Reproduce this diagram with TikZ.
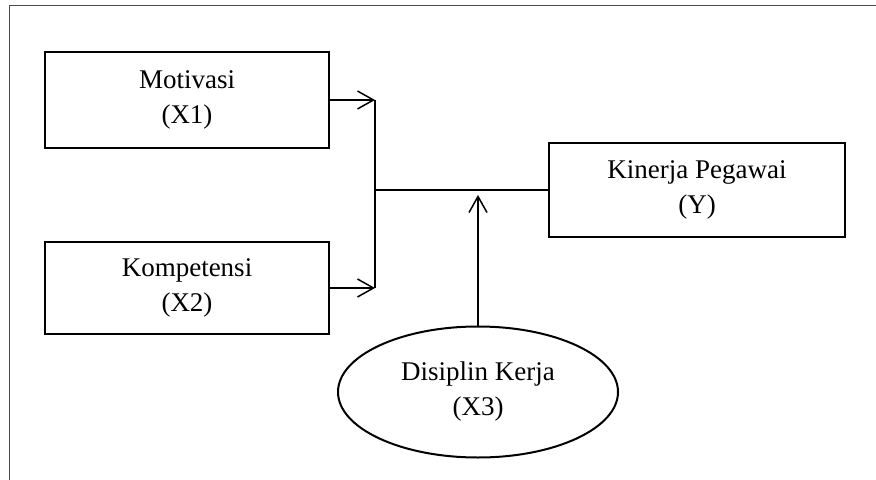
\documentclass[tikz,border=0pt]{standalone}
\usepackage{fontspec}
\setmainfont{Liberation Serif}
\usetikzlibrary{shapes.geometric,arrows.meta}

\begin{document}
\begin{tikzpicture}[x=0.5pt,y=-0.5pt]

    \useasboundingbox (0,0) rectangle (876,480);
    \draw[black!70,line width=0.5pt] (9,480) -- (9,6) -- (876,6); % Frame %

    \begin{scope}[every node/.style={draw,line width=0.6pt,align=center,font=\fontsize{13.5}{17.5}\selectfont}]
        \node[rectangle,minimum width=142pt,minimum height=48pt] (motivasi) at (187,100) {Motivasi\\(X1)};
        \node[rectangle,minimum width=142pt,minimum height=46pt] (kompetensi) at (187,288) {Kompetensi\\(X2)};
        \node[rectangle,minimum width=148pt,minimum height=47pt] (kinerja) at (697,190) {Kinerja Pegawai\\(Y)};
        \node[ellipse,line width=1pt,minimum width=140pt,minimum height=65.5pt] (disiplin) at (478,392) {Disiplin Kerja\\(X3)};
    \end{scope}

    \coordinate (j1) at (375,100);
    \coordinate (j2) at (375,288);
    \coordinate (jm) at (375,190);
    \coordinate (tip) at (478,195);

    \begin{scope}[every path/.style={line width=0.75pt}, >={Straight Barb[length=8pt,width=9pt]}]
        % Independent variables %
        \path [draw,->] (motivasi.east) -- (j1);
        \path [draw,->] (kompetensi.east) -- (j2);
        \path [draw] (j1) -- (j2);
        \path [draw] (jm) -- (kinerja.west);

        % Moderator %
        \path [draw,->] (disiplin.north) -- (tip);
    \end{scope}

\end{tikzpicture}
\end{document}
